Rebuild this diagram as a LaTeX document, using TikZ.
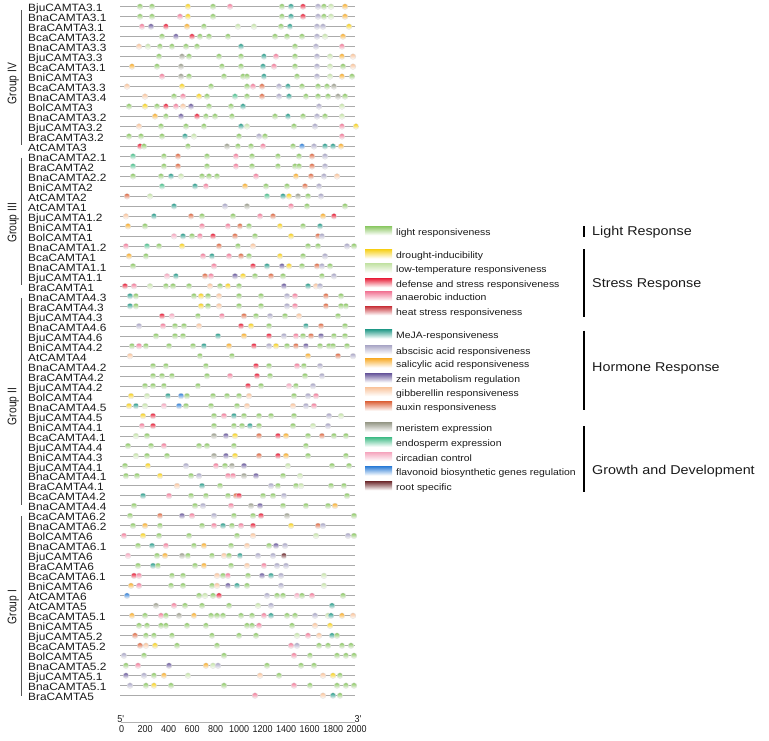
\documentclass[tikz,border=0pt]{standalone}
\usepackage{fontspec}
\setmainfont{Liberation Sans}
\newfontfamily\genefont[FakeStretch=1.12]{Liberation Sans}
\newfontfamily\groupfont[FakeStretch=0.82]{Liberation Sans}
\newfontfamily\tickfont[FakeStretch=0.9]{Liberation Sans}
\usepackage{tikz}
\definecolor{cL}{HTML}{8CC864}
\definecolor{cD}{HTML}{F7D11E}
\definecolor{cT}{HTML}{C5E3A8}
\definecolor{cF}{HTML}{E8213A}
\definecolor{cN}{HTML}{F27C9A}
\definecolor{cH}{HTML}{C8333A}
\definecolor{cJ}{HTML}{2A9D8C}
\definecolor{cB}{HTML}{A9A6C6}
\definecolor{cS}{HTML}{F8AE2E}
\definecolor{cZ}{HTML}{6B5B9E}
\definecolor{cG}{HTML}{F9C49C}
\definecolor{cX}{HTML}{DE6B45}
\definecolor{cM}{HTML}{9C9E8E}
\definecolor{cE}{HTML}{4CC08E}
\definecolor{cC}{HTML}{F5A6BE}
\definecolor{cV}{HTML}{3381D8}
\definecolor{cR}{HTML}{6E2B2E}
\definecolor{textgray}{HTML}{1A1A1A}
\definecolor{bracketgray}{HTML}{555555}
% one gene: line, name and its elements (position/kind)
\newcommand{\generow}[3]{%
  \pgfmathsetmacro{\ry}{6.7+9.985*(#1-1)}
  \draw[geneline] (120,\ry) -- (355,\ry);
  \node[genelabel] (gene#1) at (28,\ry+5) {#2};
  \foreach \mx/\mc in {#3} {\path[cis=\mc] (\mx,\ry) circle[radius=2.9];}
}
\newcommand{\legitem}[4]{%
  \path[legbox=#2] (365,#3-5.5) rectangle (392,#3+3.5);
  \node[legtext] (leg#1) at (396,#3+3.4) {#4};
}

\begin{document}
\begin{tikzpicture}[
  x=1pt,y=-1pt,
  geneline/.style={draw=black!33,line width=1pt},
  genelabel/.style={anchor=base west,inner sep=0pt,text=textgray,font=\genefont\fontsize{10.6}{12}\selectfont},
  cis/.style={top color=c#1,middle color=c#1!75!white,bottom color=white,draw=black!12,line width=0.3pt},
  grouplabel/.style={rotate=90,inner sep=0pt,text=textgray,font=\groupfont\fontsize{12.5}{14}\selectfont},
  groupbar/.style={draw=bracketgray,line width=1.4pt},
  legbox/.style={top color=c#1,middle color=c#1!45!white,bottom color=white},
  legtext/.style={anchor=base west,inner sep=0pt,text=textgray,font=\genefont\fontsize{9.3}{11}\selectfont},
  catbar/.style={draw=black,line width=2.4pt},
  catlabel/.style={anchor=base west,inner sep=0pt,text=textgray,font=\genefont\fontsize{12.8}{15}\selectfont},
  ticklabel/.style={anchor=base,inner sep=0pt,text=textgray,font=\tickfont\fontsize{10}{12}\selectfont}
]
\useasboundingbox (0,0) rectangle (769,741);

% group IV
\generow{1}{BjuCAMTA3.1}{140/L,152/L,188/D,213/L,230/N,282/L,291/J,303/F,318/B,324/L,331/T,345/S}
\generow{2}{BnaCAMTA3.1}{140/L,152/L,180/N,188/D,213/L,282/L,291/J,303/F,318/B,324/L,331/T,345/S}
\generow{3}{BraCAMTA3.1}{142/N,151/Z,166/F,187/S,204/L,238/T,254/T,281/L,290/J,317/B,323/B,349/D}
\generow{4}{BcaCAMTA3.2}{162/L,176/Z,192/F,200/L,209/L,228/L,275/L,287/L,302/L,317/B,325/T,343/S}
\generow{5}{BnaCAMTA3.3}{139/G,148/T,160/L,172/L,186/L,197/L,241/J,295/L,316/B,342/N}
\generow{6}{BjuCAMTA3.3}{159/L,182/M,189/L,219/L,241/L,264/J,276/N,295/L,317/B,330/T,342/S,353/G}
\generow{7}{BcaCAMTA3.1}{132/S,157/L,181/M,222/L,241/L,263/J,274/N,295/L,317/B,330/T,343/L,353/G}
\generow{8}{BniCAMTA3}{162/N,181/M,189/L,224/L,243/L,247/L,264/J,297/L,317/B,330/T,342/S,352/L}
\generow{9}{BcaCAMTA3.3}{127/G,182/D,211/L,247/L,253/N,262/X,279/B,288/J,302/L,318/L,327/L,334/M}
\generow{10}{BnaCAMTA3.4}{145/G,174/L,183/N,199/D,207/L,235/E,247/L,262/X,279/B,289/J,306/L,318/L,328/L,338/M,345/L}
\generow{11}{BolCAMTA3}{129/L,145/D,157/L,166/F,176/N,183/G,191/Z,209/L,231/L,243/J,319/B,342/T}
\generow{12}{BnaCAMTA3.2}{155/S,166/L,181/Z,197/F,206/L,215/L,232/L,275/L,288/J,303/L,317/B,325/L,342/T}
\generow{13}{BjuCAMTA3.2}{139/G,161/L,186/L,204/L,241/J,247/T,294/L,315/B,342/N,356/D}
\generow{14}{BraCAMTA3.2}{129/L,141/L,162/L,185/J,194/T,239/L,259/B,265/L,342/N}
\generow{15}{AtCAMTA3}{140/F,144/L,188/L,227/M,238/L,251/L,263/N,293/L,302/V,314/B,325/J,333/J,341/S}
% group III
\generow{16}{BnaCAMTA2.1}{133/E,164/L,178/X,207/L,236/N,252/L,278/L,299/L,312/X,325/B}
\generow{17}{BraCAMTA2}{133/E,164/L,178/X,207/L,236/N,252/L,278/L,295/L,299/L,312/X,325/B}
\generow{18}{BnaCAMTA2.2}{133/L,161/L,171/J,181/T,202/L,209/L,217/L,256/N,296/S,311/X,324/B,337/G}
\generow{19}{BniCAMTA2}{162/E,195/J,206/N,245/S,266/L,287/L,305/X,319/B}
\generow{20}{AtCAMTA2}{127/X,150/T,267/E,283/J,289/D,298/M,308/L,321/B}
\generow{21}{AtCAMTA1}{174/J,225/B,247/M,291/N,307/L,345/L}
\generow{22}{BjuCAMTA1.2}{126/G,154/J,191/X,202/L,233/L,260/N,273/X,323/S,334/F}
\generow{23}{BniCAMTA1}{128/S,145/L,202/N,228/N,240/X,249/L,280/D,303/L,320/J}
\generow{24}{BolCAMTA1}{174/C,183/J,192/L,200/N,213/F,235/X,255/L,291/D,318/X,322/B}
\generow{25}{BnaCAMTA1.2}{126/N,147/E,159/L,182/D,219/X,238/L,253/G,308/L,318/L,347/B,354/L}
\generow{26}{BcaCAMTA1}{129/S,146/L,203/N,212/J,229/N,241/X,249/L,280/D,303/L,325/B}
\generow{27}{BnaCAMTA1.1}{133/L,214/N,253/F,267/J,282/Z,289/D,302/L,317/X,322/B,330/L}
\generow{28}{BjuCAMTA1.1}{167/C,176/J,205/X,211/N,235/Z,243/D,255/L,271/X,283/L,322/L,334/B}
\generow{29}{BraCAMTA1}{125/F,134/N,150/T,166/L,173/L,189/L,210/G,220/L,228/D,239/L,284/Z,308/J,316/G,320/B}
% group II
\generow{30}{BnaCAMTA4.3}{130/J,136/L,194/L,201/D,208/L,219/G,239/L,261/L,287/B,295/N,326/X,341/L}
\generow{31}{BraCAMTA4.3}{130/J,136/L,201/D,208/L,219/G,239/L,261/L,287/B,295/N,326/X,341/L,346/L}
\generow{32}{BjuCAMTA4.3}{162/F,172/C,198/L,222/N,244/X,256/L,270/B,285/L,299/G,338/L}
\generow{33}{BnaCAMTA4.6}{139/B,163/N,175/L,184/L,199/G,241/F,251/D,269/L,306/J,321/X,345/L}
\generow{34}{BjuCAMTA4.6}{156/L,175/L,183/L,218/J,244/S,269/F,284/B,296/N,303/L,311/X,321/Z,334/L,345/L}
\generow{35}{BniCAMTA4.2}{132/L,139/N,146/L,169/L,193/L,204/J,229/S,254/F,269/B,276/D,287/L,296/X,306/Z,320/L,329/L,333/L,347/L}
\generow{36}{AtCAMTA4}{130/G,200/L,232/L,308/S,338/X,353/B}
\generow{37}{BnaCAMTA4.2}{153/L,166/L,206/L,256/F,269/L,297/N,304/L,320/B}
\generow{38}{BraCAMTA4.2}{153/L,162/L,172/L,207/L,230/N,257/F,270/L,305/L,322/B}
\generow{39}{BjuCAMTA4.2}{145/L,153/L,164/L,198/L,248/F,261/L,289/C,296/L,313/B}
\generow{40}{BolCAMTA4}{131/D,147/T,168/J,181/V,187/L,213/L,227/L,239/L,249/G,294/L,308/B,316/N}
\generow{41}{BnaCAMTA4.5}{129/D,136/J,145/T,164/C,179/V,186/L,211/L,237/L,247/G,293/G,306/B,314/N}
\generow{42}{BjuCAMTA4.5}{143/D,153/F,214/L,224/N,234/J,244/L,259/L,271/L,294/L,329/B,341/T}
\generow{43}{BniCAMTA4.1}{142/N,153/F,214/L,234/L,242/L,250/J,259/L,293/L,313/T,328/B}
\generow{44}{BcaCAMTA4.1}{136/T,147/L,214/M,226/Z,235/D,259/X,278/F,286/S,308/L,322/X,334/L,346/L}
\generow{45}{BjuCAMTA4.4}{128/L,151/L,164/N,199/L,207/L,234/L,306/L}
\generow{46}{BniCAMTA4.3}{136/T,147/L,167/L,214/M,226/Z,235/D,259/X,278/F,286/S,308/L,346/L}
\generow{47}{BjuCAMTA4.1}{125/L,148/D,186/B,216/N,225/L,232/M,244/Z,288/T,332/L,349/L}
\generow{48}{BnaCAMTA4.1}{126/L,137/L,160/D,191/L,199/B,228/N,233/N,244/M,256/Z,283/L,300/T}
\generow{49}{BraCAMTA4.1}{177/G,202/J,220/L,271/B,278/L,296/L,301/T,331/L,344/L}
\generow{50}{BcaCAMTA4.2}{143/J,169/N,191/L,206/L,228/L,236/X,239/F,263/L,273/L,284/B,347/L}
\generow{51}{BnaCAMTA4.4}{134/L,195/L,203/B,231/N,251/M,260/Z,283/L,306/L,328/L,335/S}
% group I
\generow{52}{BcaCAMTA6.2}{130/L,160/X,182/Z,192/N,214/B,234/L,253/L,261/F,287/M,354/L}
\generow{53}{BnaCAMTA6.2}{133/L,145/S,160/L,202/L,214/N,223/J,232/L,241/N,253/F,291/D,318/X,323/B}
\generow{54}{BolCAMTA6}{124/N,143/D,159/L,189/L,237/L,253/G,316/T,348/B,354/L}
\generow{55}{BnaCAMTA6.1}{138/L,152/J,166/N,194/L,204/S,231/L,247/G,269/L,276/Z,285/B}
\generow{56}{BjuCAMTA6}{128/C,157/L,165/S,182/M,188/L,212/L,224/G,229/L,240/J,258/B,273/B,284/R}
\generow{57}{BraCAMTA6}{138/L,153/J,158/L,195/L,204/S,231/L,247/G,264/N,277/B,286/B}
\generow{58}{BcaCAMTA6.1}{134/F,139/N,172/L,183/L,217/G,223/L,228/N,248/L,262/Z,271/J,281/B,324/T}
\generow{59}{BniCAMTA6}{131/S,139/N,171/L,183/L,212/L,217/G,228/Z,237/J,247/L,281/B,324/T}
\generow{60}{AtCAMTA6}{127/V,199/L,205/T,213/L,219/F,267/B,277/L,283/L,297/C,302/L,312/N,343/L}
\generow{61}{AtCAMTA5}{156/M,174/N,185/L,202/L,229/L,258/T,271/B,332/J}
\generow{62}{BcaCAMTA5.1}{132/S,145/L,161/N,166/L,179/M,194/S,211/L,217/L,223/L,241/L,252/L,264/N,271/J,287/L,295/L,315/B,328/T,331/J,342/S,353/G}
\generow{63}{BniCAMTA5}{139/L,147/L,161/L,166/L,187/L,206/L,247/L,252/L,259/N,292/L,315/G,330/D}
\generow{64}{BjuCAMTA5.2}{135/X,146/L,154/L,172/L,212/L,239/L,256/L,297/T,308/N,319/G,332/J,337/L}
\generow{65}{BcaCAMTA5.2}{140/X,146/G,155/D,177/L,217/L,291/N,297/B,319/L,328/L,342/L,351/L}
\generow{66}{BolCAMTA5}{124/B,144/L,224/L,294/N,310/L,337/L,346/L,354/L}
\generow{67}{BnaCAMTA5.2}{126/L,138/N,169/Z,206/S,213/T,218/B,267/L,301/L,314/L}
\generow{68}{BjuCAMTA5.1}{126/Z,144/B,154/L,164/S,188/T,260/G,279/L,323/G,333/D,340/L}
\generow{69}{BnaCAMTA5.1}{130/B,146/L,154/D,171/L,224/L,294/N,310/L,337/L,346/L,354/L}
\generow{70}{BraCAMTA5}{255/N,323/G,333/J,340/L}

% group brackets
\draw[groupbar] (21.7,10) -- (21.7,145);
\draw[groupbar] (21.7,158) -- (21.7,285);
\draw[groupbar] (21.7,298) -- (21.7,505);
\draw[groupbar] (21.7,516) -- (21.7,696);
\node[grouplabel] (gIV) at (13.3,83.5) {Group IV};
\node[grouplabel] (gIII) at (13.3,223) {Group III};
\node[grouplabel] (gII) at (13.3,406.5) {Group II};
\node[grouplabel] (gI) at (13.3,607) {Group I};

% axis
\draw[draw=black!30,line width=0.6pt] (120.7,722.7) -- (355,722.7);
\node[ticklabel] (five) at (120.7,722) {5'};
\node[ticklabel] (three) at (358,722) {3'};
\foreach \k in {0,...,10} {
  \pgfmathtruncatemacro{\tv}{200*\k}
  \node[ticklabel] (tick\k) at ({121.7+23.5*\k},732.7) {\tv};
}

% legend
\legitem{1}{L}{231.7}{light responsiveness}
\legitem{2}{D}{255}{drought-inducibility}
\legitem{3}{T}{269.3}{low-temperature responsiveness}
\legitem{4}{F}{283.7}{defense and stress responsiveness}
\legitem{5}{N}{297.3}{anaerobic induction}
\legitem{6}{H}{311.7}{heat stress responsiveness}
\legitem{7}{J}{335}{MeJA-responsiveness}
\legitem{8}{B}{350.7}{abscisic acid responsiveness}
\legitem{9}{S}{364}{salicylic acid responsiveness}
\legitem{10}{Z}{379}{zein metabolism regulation}
\legitem{11}{G}{392.7}{gibberellin responsiveness}
\legitem{12}{X}{407.3}{auxin responsiveness}
\legitem{13}{M}{428.3}{meristem expression}
\legitem{14}{E}{443.3}{endosperm expression}
\legitem{15}{C}{457.7}{circadian control}
\legitem{16}{V}{472}{flavonoid biosynthetic genes regulation}
\legitem{17}{R}{486.7}{root specific}

% categories
\draw[catbar] (584,226) -- (584,237);
\draw[catbar] (584,249.3) -- (584,317.3);
\draw[catbar] (584,330.7) -- (584,410);
\draw[catbar] (584,426) -- (584,491.7);
\node[catlabel] (light) at (592,236) {Light Response};
\node[catlabel] (stress) at (592,287.8) {Stress Response};
\node[catlabel] (hormone) at (592,371.2) {Hormone Response};
\node[catlabel] (growth) at (592,474.5) {Growth and Development};
\end{tikzpicture}
\end{document}
